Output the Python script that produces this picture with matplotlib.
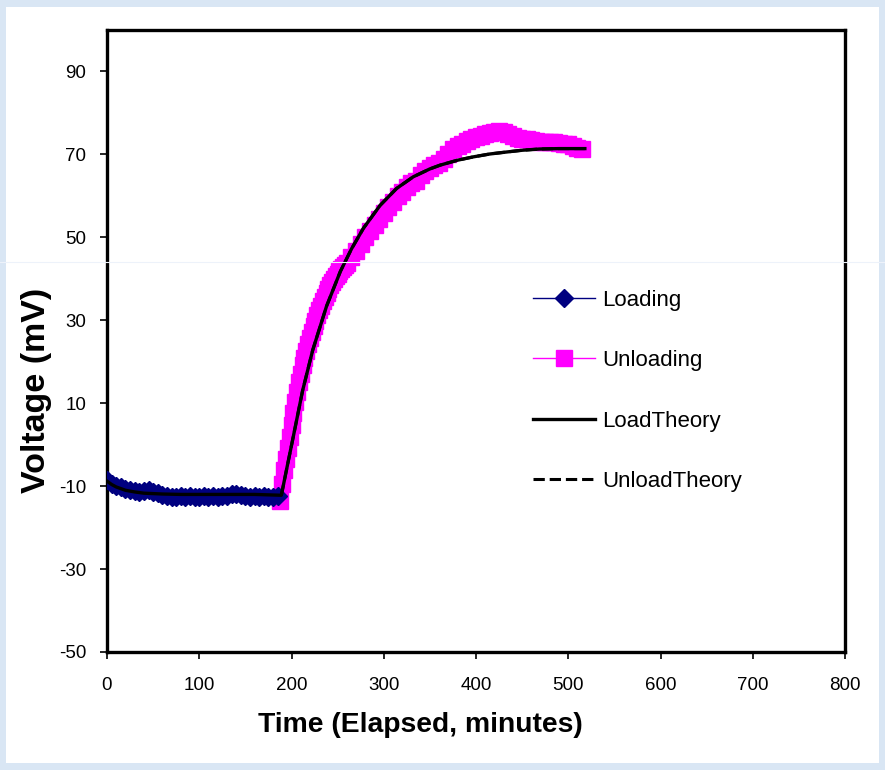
import numpy as np
import matplotlib.pyplot as plt
from matplotlib.patches import Rectangle
from matplotlib.lines import Line2D

# values (minutes, mV)
load_t = [0, 5, 10, 15, 20, 25, 30, 35, 40, 45, 50, 55, 60, 65, 70, 75, 80, 85, 90,
          95, 100, 105, 110, 115, 120, 125, 130, 135, 140, 145, 150, 155, 160, 165,
          170, 175, 180, 185]
load_v = [-8.5, -9.4, -9.9, -10.3, -10.7, -10.9, -11.1, -11.3, -11.2, -11.0, -11.3,
          -11.7, -12.1, -12.5, -12.7, -12.6, -12.4, -12.7, -12.5, -12.6, -12.7, -12.5,
          -12.6, -12.4, -12.6, -12.5, -12.3, -12.0, -11.9, -12.1, -12.4, -12.6, -12.5,
          -12.6, -12.5, -12.7, -12.6, -12.5]

unload_t = [188, 190, 192, 194, 196, 198, 200, 202, 204, 206, 208, 210, 212, 214,
            216, 218, 220, 222, 224, 226, 228, 230, 232, 234, 236, 238, 240, 242,
            244, 246, 248, 250, 252, 254, 256, 258, 260,
            265, 270, 275, 280, 285, 290, 295, 300, 305, 310, 315, 320,
            325, 330, 335, 340, 345, 350, 355, 360, 365, 370, 375, 380, 385, 390,
            395, 400, 405, 410, 415, 420, 425, 430, 435, 440, 445, 450, 455, 460,
            465, 470, 475, 480, 485, 490, 495, 500, 505, 510, 515]
unload_v = [-13.6, -9.5, -6.2, -3.4, -0.9, 1.8, 4.8, 7.6, 10.2, 12.8, 15.0, 17.1,
            19.1, 21.0, 22.7, 24.3, 25.8, 27.2, 28.6, 29.9, 31.2, 32.4, 33.5, 34.6,
            35.6, 36.6, 37.5, 38.4, 39.2, 40.0, 40.6, 41.2, 41.8, 42.4, 42.9, 43.4,
            43.9,
            45.3, 46.8, 48.3, 50.0, 51.5, 53.0, 54.4, 55.8,
            57.2, 58.6, 59.9, 61.0, 62.1, 63.0, 63.6, 65.0, 66.0, 66.8, 67.4, 68.0,
            69.0, 70.2, 71.2, 72.0, 72.6, 73.2, 73.8, 74.2, 74.5, 74.8, 75.2, 75.4,
            75.6, 75.4, 75.0, 74.5, 74.0, 73.8, 73.6, 73.4, 73.2, 73.1, 73.0, 73.0,
            72.9, 72.8, 72.6, 72.4, 72.0, 71.6, 71.2]

theory_t = [0, 5, 10, 20, 30, 40, 60, 80, 120, 160, 189, 195, 202, 212, 223, 238,
            253, 265, 278, 296, 314, 332, 350, 361, 380, 397, 415, 434, 450, 469,
            490, 518]
theory_v = [-8.8, -9.6, -10.2, -11.0, -11.4, -11.7, -11.9, -12.0, -12.0, -12.0,
            -12.2, -5.6, 2.0, 13.0, 22.8, 33.4, 41.8, 47.2, 52.2, 57.7, 61.8, 64.6,
            66.5, 67.4, 68.6, 69.4, 70.1, 70.6, 71.0, 71.3, 71.4, 71.4]

unload_theory_t = theory_t[10:]
unload_theory_v = theory_v[10:]

x_ticks = [0, 100, 200, 300, 400, 500, 600, 700, 800]
y_ticks = [-50, -30, -10, 10, 30, 50, 70, 90]


def draw_chart():
    plt.rcParams["font.family"] = ["Liberation Sans", "DejaVu Sans"]
    plt.rcParams["axes.unicode_minus"] = False
    fig = plt.figure(figsize=(8.85, 7.70), dpi=100, facecolor="#d9e6f4")
    fig.patches.append(Rectangle((6 / 885, 1 - 763 / 770), 873 / 885, 756 / 770,
                                 transform=fig.transFigure, facecolor="white",
                                 edgecolor="none", zorder=-10))

    ax = fig.add_axes([107 / 885, 1 - 652 / 770, 738 / 885, 622 / 770])
    ax.set_facecolor("white")

    # faint scan line running across the whole picture
    fig.add_artist(Line2D([0, 1], [1 - 262 / 770] * 2, transform=fig.transFigure,
                          color="#edf2fa", lw=0.8, zorder=0.5))

    ax.plot(load_t, load_v, color="#000080", marker="D", markersize=9, lw=1,
            label="Loading", zorder=3)
    ax.plot(unload_t, unload_v, color="#ff00ff", marker="s", markersize=11, lw=1,
            label="Unloading", zorder=2)
    ax.plot(unload_theory_t, unload_theory_v, color="black", lw=2.2, ls="--",
            label="UnloadTheory", zorder=4)
    ax.plot(theory_t, theory_v, color="black", lw=2.4, label="LoadTheory", zorder=5)

    ax.set_xlim(0, 800)
    ax.set_ylim(-50, 100)
    ax.set_xticks(x_ticks)
    ax.set_yticks(y_ticks)
    ax.tick_params(direction="out", length=5, width=1.2, labelsize=13.5, color="black")
    ax.tick_params(axis="x", pad=13)
    ax.tick_params(axis="y", pad=10)
    for sp in ax.spines.values():
        sp.set_linewidth(2.4)

    ax.set_xlabel("Time (Elapsed, minutes)", fontsize=20.3, fontweight="bold")
    ax.set_ylabel("Voltage (mV)", fontsize=24.5, fontweight="bold")
    ax.xaxis.set_label_coords(0.424, -0.097)
    ax.yaxis.set_label_coords(-0.075, 0.421)

    handles, labels = ax.get_legend_handles_labels()
    order = [0, 1, 3, 2]
    ax.legend([handles[i] for i in order], [labels[i] for i in order],
              loc="upper left", bbox_to_anchor=(0.562, 0.6), frameon=False,
              fontsize=16, handlelength=2.8, handletextpad=0.3,
              labelspacing=1.77, borderpad=0)

    fig.savefig("out.png", dpi=100, facecolor=fig.get_facecolor())


if __name__ == "__main__":
    draw_chart()
